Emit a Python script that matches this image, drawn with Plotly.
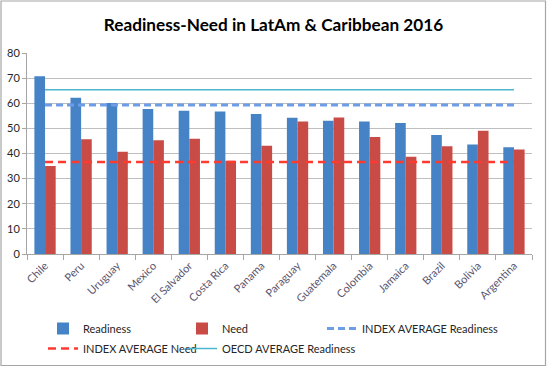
import plotly.graph_objects as go

countries = ["Chile", "Peru", "Uruguay", "Mexico", "El Salvador", "Costa Rica", "Panama",
             "Paraguay", "Guatemala", "Colombia", "Jamaica", "Brazil", "Bolivia", "Argentina"]
readiness = [70.7, 62.2, 60.1, 57.7, 57.0, 56.7, 55.7, 54.2, 53.0, 52.7, 52.1, 47.4, 43.6, 42.5]
need = [35.0, 45.7, 40.7, 45.3, 45.9, 37.1, 43.1, 52.7, 54.3, 46.6, 38.7, 42.9, 49.1, 41.6]
index_avg_readiness = 59.3
index_avg_need = 36.6
oecd_avg_readiness = 65.4

W, H = 547, 368
ML, MR, MT, MB = 27, 15, 53, 114
FONT = "Lato, 'Open Sans', sans-serif"
pw = W - ML - MR
ph = H - MT - MB

fig = go.Figure()
fig.add_trace(go.Bar(name="Readiness", x=countries, y=readiness, legend="legend",
                     legendgroup="a", marker=dict(color="#4582c6", line=dict(width=0))))
fig.add_trace(go.Bar(name="Need", x=countries, y=need, legend="legend2",
                     legendgroup="b", marker=dict(color="#c94b46", line=dict(width=0))))
fig.add_trace(go.Scatter(name="INDEX AVERAGE Readiness", x=countries, legend="legend3",
                         legendgroup="c",
                         y=[index_avg_readiness] * len(countries), mode="lines",
                         line=dict(color="#6e9de8", width=3, dash="7px,4px")))
fig.add_trace(go.Scatter(name="INDEX AVERAGE Need", x=countries, legend="legend",
                         legendgroup="d",
                         y=[index_avg_need] * len(countries), mode="lines",
                         line=dict(color="#ff3b30", width=2.5, dash="8px,5px")))
fig.add_trace(go.Scatter(name="OECD AVERAGE Readiness", x=countries, legend="legend2",
                         legendgroup="e",
                         y=[oecd_avg_readiness] * len(countries), mode="lines",
                         line=dict(color="#4cb6cf", width=1.5)))

fig.add_shape(type="rect", xref="paper", yref="paper",
              x0=(1 - ML) / pw, x1=(545.5 - ML) / pw,
              y0=(H - MB - 365.5) / ph, y1=(H - MB - 1) / ph,
              line=dict(color="#a6a6a6", width=1.2), fillcolor="rgba(0,0,0,0)", layer="below")

def leg(px_x, px_y):
    return dict(orientation="v", x=(px_x - ML) / pw, xanchor="left",
                y=(H - MB - px_y) / ph, yanchor="top",
                font=dict(family=FONT, size=11, color="#262626"),
                bgcolor="rgba(0,0,0,0)", traceorder="grouped", tracegroupgap=1)

fig.update_layout(
    width=W, height=H,
    margin=dict(l=ML, r=MR, t=MT, b=MB, autoexpand=False),
    paper_bgcolor="white", plot_bgcolor="white",
    barmode="group", bargap=0.41, bargroupgap=0,
    font=dict(family=FONT, size=11, color="#404040"),
    title=dict(text="<b>Readiness-Need in LatAm &amp; Caribbean 2016</b>",
               x=0.5, xref="container", xanchor="center",
               y=1 - 25 / H, yref="container", yanchor="middle",
               font=dict(family=FONT, size=17.2, color="#000000")),
    showlegend=True,
    legend=leg(43, 314),
    legend2=leg(182, 314),
    legend3=leg(322, 314),
    xaxis=dict(type="category", showgrid=False, showline=True, linecolor="#a6a6a6",
               ticks="outside", tickson="boundaries", ticklen=5, tickcolor="#a6a6a6",
               tickangle=-45, tickfont=dict(size=11, color="#5a5670"), automargin=False),
    yaxis=dict(range=[0, 80], dtick=10, showgrid=True, gridcolor="#bfbfbf", gridwidth=1,
               showline=True, linecolor="#a6a6a6", ticks="outside", ticklen=4,
               tickcolor="#a6a6a6", zeroline=False, automargin=False,
               tickfont=dict(size=11, color="#262626")),
)

fig.write_html("out.html", config={"displayModeBar": False},
               post_script="document.body.style.margin='0';")
